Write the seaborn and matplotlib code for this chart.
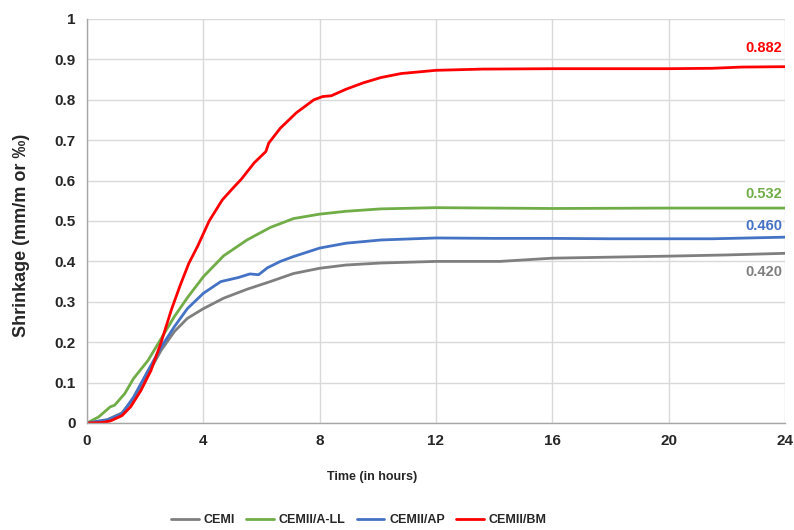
import numpy as np
import pandas as pd
import matplotlib
matplotlib.use("Agg")
import matplotlib.pyplot as plt
import seaborn as sns
from matplotlib.ticker import FuncFormatter
from matplotlib.lines import Line2D

series_names = ["CEMI", "CEMII/A-LL", "CEMII/AP", "CEMII/BM"]
colors = ["#7f7f7f", "#70ad47", "#4472c4", "#ff0000"]
end_labels = ["0.420", "0.532", "0.460", "0.882"]

t_cemi = [0, 0.7, 1.2, 1.6, 2.1, 2.55, 3.0, 3.45, 4.0, 4.7, 5.5, 6.3, 7.1, 8.0, 8.9, 10.1, 12, 14.2, 16, 17.6, 20, 22, 24]
v_cemi = [0, 0.008, 0.025, 0.06, 0.122, 0.18, 0.226, 0.259, 0.283, 0.309, 0.331, 0.35, 0.37, 0.383, 0.391, 0.396, 0.4, 0.4, 0.408, 0.41, 0.413, 0.416, 0.42]

t_all = [0, 0.4, 0.8, 0.95, 1.3, 1.6, 2.1, 2.55, 3.0, 3.45, 4.0, 4.7, 5.5, 6.3, 7.1, 8.0, 8.9, 10.1, 12, 14, 16, 20, 24]
v_all = [0, 0.015, 0.04, 0.044, 0.073, 0.11, 0.155, 0.209, 0.263, 0.31, 0.362, 0.414, 0.453, 0.484, 0.506, 0.517, 0.524, 0.53, 0.533, 0.532, 0.531, 0.532, 0.532]

t_ap = [0, 0.7, 1.2, 1.6, 2.1, 2.55, 3.0, 3.45, 4.0, 4.6, 5.2, 5.6, 5.9, 6.2, 6.65, 7.1, 8.0, 8.9, 10.1, 12, 14, 16, 18, 20, 21.5, 24]
v_ap = [0, 0.008, 0.023, 0.064, 0.13, 0.188, 0.238, 0.283, 0.321, 0.35, 0.36, 0.369, 0.367, 0.384, 0.4, 0.412, 0.433, 0.445, 0.453, 0.458, 0.457, 0.457, 0.456, 0.456, 0.456, 0.46]

t_bm = [0, 0.5, 0.8, 1.2, 1.5, 1.85, 2.2, 2.55, 2.9, 3.2, 3.5, 3.8, 4.2, 4.65, 5.0, 5.3, 5.75, 6.15, 6.25, 6.65, 7.2, 7.8, 8.1, 8.4, 8.9, 9.5, 10.1, 10.8, 12, 13.6, 16, 18, 20, 21.5, 22.5, 24]
v_bm = [0, 0.001, 0.005, 0.018, 0.04, 0.08, 0.13, 0.20, 0.28, 0.34, 0.395, 0.437, 0.5, 0.552, 0.58, 0.603, 0.644, 0.672, 0.693, 0.73, 0.768, 0.80, 0.808, 0.81, 0.826, 0.842, 0.855, 0.865, 0.873, 0.876, 0.877, 0.877, 0.877, 0.878, 0.881, 0.882]

x_ticks = [0, 4, 8, 12, 16, 20, 24]
y_ticks = [0, 0.1, 0.2, 0.3, 0.4, 0.5, 0.6, 0.7, 0.8, 0.9, 1.0]

frames = []
for name, t, v in zip(series_names, [t_cemi, t_all, t_ap, t_bm], [v_cemi, v_all, v_ap, v_bm]):
    frames.append(pd.DataFrame({"Time": t, "Shrinkage": v, "Series": name}))
df = pd.concat(frames, ignore_index=True)

sns.set_theme(style="white")
plt.rcParams["font.family"] = ["Liberation Sans", "DejaVu Sans"]

fig = plt.figure(figsize=(7.94, 5.30), dpi=100)
ax = fig.add_axes([87 / 794, 1 - 423 / 530, (785 - 87) / 794, (423 - 19) / 530])

sns.lineplot(data=df, x="Time", y="Shrinkage", hue="Series", hue_order=series_names,
             palette=colors, linewidth=2.0, ax=ax, legend=False, estimator=None, sort=False)

ax.set_xlim(0, 24)
ax.set_ylim(0, 1)
ax.set_xticks(x_ticks)
ax.set_yticks(y_ticks)
ax.yaxis.set_major_formatter(FuncFormatter(lambda v, p: f"{v:g}"))
ax.grid(True, color="#d9d9d9", linewidth=1.0)
ax.set_axisbelow(True)
for s in ["top", "right"]:
    ax.spines[s].set_visible(False)
for s in ["left", "bottom"]:
    ax.spines[s].set_color("#a6a6a6")
    ax.spines[s].set_linewidth(1.0)
ax.tick_params(axis="both", length=4, color="#a6a6a6", labelsize=11, pad=4)
for lbl in ax.get_xticklabels() + ax.get_yticklabels():
    lbl.set_fontweight("bold")
    lbl.set_color("#262626")

ax.set_xlabel("Time (in hours)", fontsize=9, fontweight="bold", color="#262626")
ax.xaxis.set_label_coords((372 - 87) / 698, -0.12)
ax.set_ylabel("Shrinkage (mm/m or ‰)", fontsize=13, fontweight="bold", color="#262626")
ax.yaxis.set_label_coords(-0.081, 0.465)

label_y = [0.375, 0.567, 0.488, 0.928]
for txt, c, yv in zip(end_labels, colors, label_y):
    ax.text(23.9, yv, txt, color=c, fontsize=10.5, fontweight="bold", ha="right", va="center")

handles = [Line2D([0], [0], color=c, lw=2.0) for c in colors]
fig.legend(handles, series_names, loc="center", bbox_to_anchor=(0.452, 0.018), ncol=4,
           frameon=False, prop={"weight": "bold", "size": 9}, handlelength=2.2,
           columnspacing=0.9, handletextpad=0.4)

fig.savefig("out.png", dpi=100)
